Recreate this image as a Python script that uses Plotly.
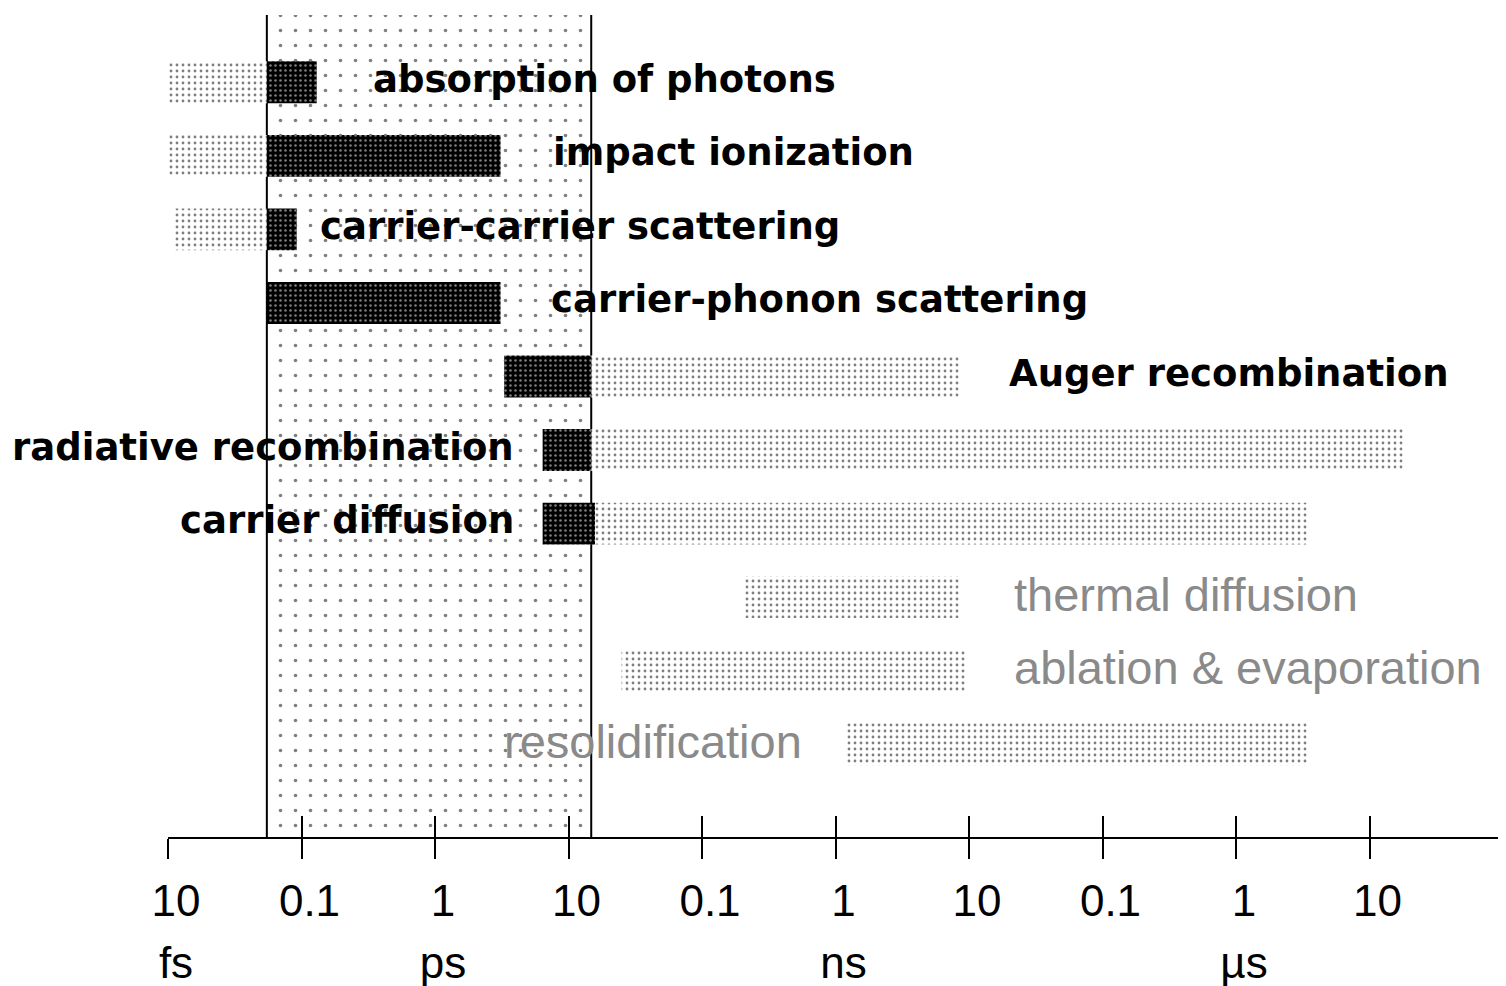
import numpy as np
import plotly.graph_objects as go

# processes, top to bottom
processes = [
    "absorption of photons",
    "impact ionization",
    "carrier-carrier scattering",
    "carrier-phonon scattering",
    "Auger recombination",
    "radiative recombination",
    "carrier diffusion",
    "thermal diffusion",
    "ablation & evaporation",
    "resolidification",
]

# time spans in seconds (None = no span of that kind)
dark_start = [5.5e-14, 5.5e-14, 5.5e-14, 5.5e-14, 3.3e-12, 6.4e-12, 6.4e-12, None, None, None]
dark_end = [1.3e-13, 3.1e-12, 9.2e-14, 3.1e-12, 1.48e-11, 1.48e-11, 1.58e-11, None, None, None]
light_start = [1.0e-14, 1.0e-14, 1.1e-14, None, 1.48e-11, 1.48e-11, 1.58e-11, 2.1e-10, 2.5e-11, 1.2e-9]
light_end = [5.5e-14, 5.5e-14, 5.5e-14, None, 8.6e-9, 1.8e-5, 3.4e-6, 8.6e-9, 9.5e-9, 3.4e-6]

label_side = ["right", "right", "right", "right", "right", "left", "left", "right", "right", "left"]
label_main = [True, True, True, True, True, True, True, False, False, False]

# shaded window (femtosecond laser pulse regime)
region_start = 5.5e-14
region_end = 1.48e-11

tick_vals = [1e-14, 1e-13, 1e-12, 1e-11, 1e-10, 1e-9, 1e-8, 1e-7, 1e-6, 1e-5, 1e-4]
tick_text = ["10", "0.1", "1", "10", "0.1", "1", "10", "0.1", "1", "10", ""]
unit_vals = [1e-14, 1e-12, 1e-9, 1e-6]
unit_text = ["fs", "ps", "ns", "µs"]


def spans(starts, ends):
    ys, base, length = [], [], []
    for p, s, e in zip(processes, starts, ends):
        if s is not None:
            ys.append(p)
            base.append(s)
            length.append(e - s)
    return ys, base, length


fig = go.Figure()

# background window
fig.add_trace(go.Bar(
    y=[0.5], x=[region_end - region_start], base=[region_start],
    orientation="h", width=1, yaxis="y", xaxis="x",
    marker=dict(color="white", line=dict(width=0),
                pattern=dict(shape=".", fgcolor="black", bgcolor="white",
                             size=15, solidity=0.045)),
    hoverinfo="skip", showlegend=False,
))
for edge in [region_start, region_end]:
    fig.add_trace(go.Scatter(
        x=[edge, edge], y=[0, 1], mode="lines", yaxis="y",
        line=dict(color="black", width=2), hoverinfo="skip", showlegend=False,
    ))

ys, base, length = spans(light_start, light_end)
fig.add_trace(go.Bar(
    y=ys, x=length, base=base, orientation="h", width=0.57, yaxis="y2",
    marker=dict(color="white", line=dict(width=0),
                pattern=dict(shape=".", fgcolor="black", bgcolor="white",
                             size=6, solidity=0.17)),
    showlegend=False,
))

ys, base, length = spans(dark_start, dark_end)
fig.add_trace(go.Bar(
    y=ys, x=length, base=base, orientation="h", width=0.57, yaxis="y2",
    marker=dict(color="black", line=dict(width=0),
                pattern=dict(shape=".", fgcolor="white", bgcolor="black",
                             size=5, solidity=0.2)),
    showlegend=False,
))

# invisible helpers so the extra tick / unit axes get drawn
fig.add_trace(go.Scatter(x=tick_vals, y=[0.5] * len(tick_vals), xaxis="x2", yaxis="y",
                         mode="markers", marker=dict(opacity=0), hoverinfo="skip",
                         showlegend=False))
fig.add_trace(go.Scatter(x=unit_vals, y=[0.5] * len(unit_vals), xaxis="x3", yaxis="y",
                         mode="markers", marker=dict(opacity=0), hoverinfo="skip",
                         showlegend=False))

label_gap = [54, 50, 21, 48, 47, 27, 27, 52, 46, 42]
for i, p in enumerate(processes):
    ends = [v for v in (dark_end[i], light_end[i]) if v is not None]
    starts = [v for v in (dark_start[i], light_start[i]) if v is not None]
    if label_side[i] == "right":
        xa, anchor, shift = max(ends), "left", label_gap[i]
    else:
        xa, anchor, shift = min(starts), "right", -label_gap[i]
    if label_main[i]:
        font = dict(family="DejaVu Sans", size=37, color="black", weight="bold")
    else:
        font = dict(family="Liberation Sans", size=47, color="#8a8a8a")
    fig.add_annotation(
        x=np.log10(xa), y=p, xref="x", yref="y2", text=p, showarrow=False,
        xanchor=anchor, xshift=shift, yshift=3, font=font,
    )

axis_font = dict(family="Liberation Sans", size=44, color="black")
log_range = [-14, -4]
fig.update_layout(
    width=1498, height=978,
    margin=dict(l=160, r=3, t=0, b=149),
    paper_bgcolor="white", plot_bgcolor="white",
    barmode="overlay",
    xaxis=dict(
        type="log", range=log_range, showgrid=False, zeroline=False,
        showline=True, linecolor="black", linewidth=2,
        tickmode="array", tickvals=tick_vals, ticktext=tick_text,
        ticks="outside", ticklen=20, tickwidth=2, tickcolor="black",
        tickfont=axis_font, ticklabelshift=8, ticklabelstandoff=4,
    ),
    xaxis2=dict(
        type="log", range=log_range, overlaying="x", anchor="y", side="bottom",
        showgrid=False, zeroline=False, showline=False,
        tickmode="array", tickvals=tick_vals, showticklabels=False,
        ticks="inside", ticklen=21, tickwidth=2, tickcolor="black",
    ),
    xaxis3=dict(
        type="log", range=log_range, overlaying="x", anchor="y", side="bottom",
        showgrid=False, zeroline=False, showline=False,
        tickmode="array", tickvals=unit_vals, ticktext=unit_text,
        ticks="", tickfont=axis_font, ticklabelshift=8, ticklabelstandoff=96,
    ),
    yaxis=dict(range=[0, 1.0085], visible=False, fixedrange=True),
    yaxis2=dict(
        overlaying="y", type="category", categoryorder="array",
        categoryarray=processes, range=[10.261, -1.010], visible=False,
    ),
)

fig.write_html("out.html")
